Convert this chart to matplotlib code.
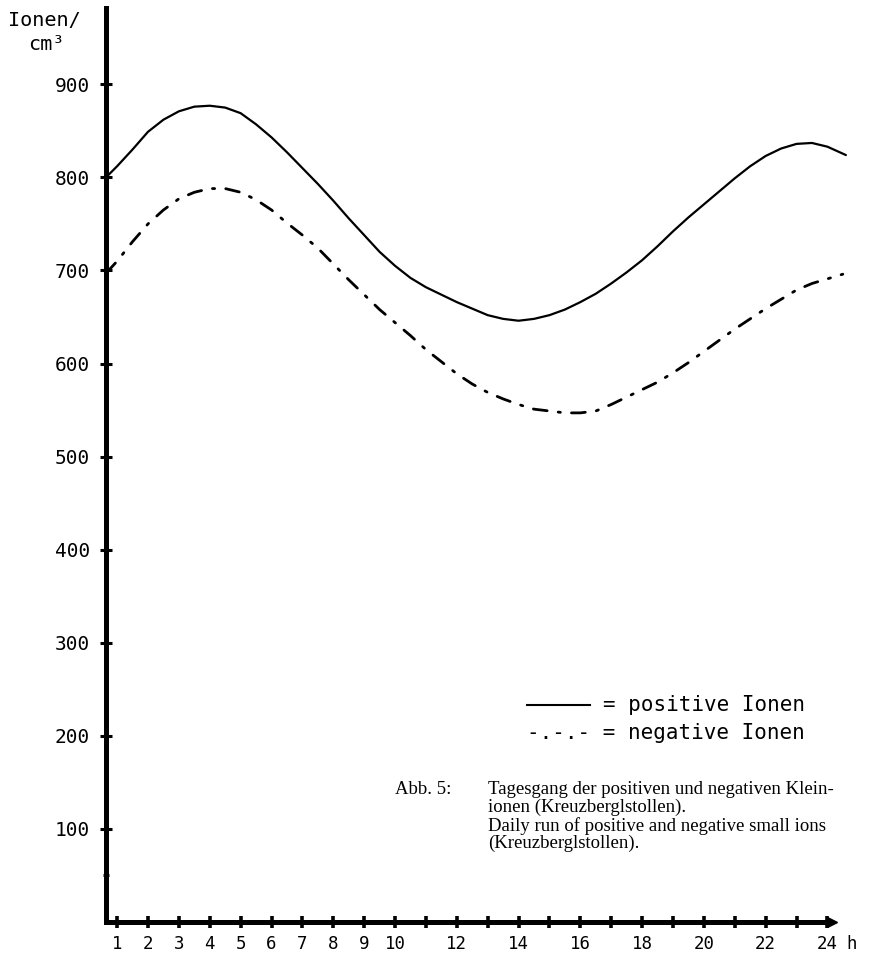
import matplotlib
matplotlib.use("Agg")
import matplotlib.pyplot as plt
from matplotlib.lines import Line2D

# daily run of small ions (Kreuzberglstollen), every half hour
pos_hour = [0.64, 1, 1.5, 2, 2.5, 3, 3.5, 4, 4.5, 5, 5.5, 6, 6.5, 7, 7.5, 8, 8.5, 9,
            9.5, 10, 10.5, 11, 11.5, 12, 12.5, 13, 13.5, 14, 14.5, 15, 15.5, 16,
            16.5, 17, 17.5, 18, 18.5, 19, 19.5, 20, 20.5, 21, 21.5, 22, 22.5, 23,
            23.5, 24, 24.6]
pos_ions = [800, 812, 830, 849, 862, 871, 876, 877, 875, 869, 857, 843, 827, 810,
            793, 775, 756, 738, 720, 705, 692, 682, 674, 666, 659, 652, 648, 646,
            648, 652, 658, 666, 675, 686, 698, 711, 726, 742, 757, 771, 785, 799,
            812, 823, 831, 836, 837, 833, 824]

neg_hour = [0.64, 1, 1.5, 2, 2.5, 3, 3.5, 4, 4.5, 5, 5.5, 6, 6.5, 7, 7.5, 8, 8.5, 9,
            9.5, 10, 10.5, 11, 11.5, 12, 12.5, 13, 13.5, 14, 14.5, 15, 15.5, 16,
            16.5, 17, 17.5, 18, 18.5, 19, 19.5, 20, 20.5, 21, 21.5, 22, 22.5, 23,
            23.5, 24, 24.5]
neg_ions = [697, 710, 731, 750, 765, 777, 784, 788, 788, 784, 776, 765, 751, 738,
            724, 707, 690, 674, 658, 644, 630, 615, 602, 589, 578, 569, 562, 556,
            551, 549, 547, 547, 549, 556, 564, 572, 580, 590, 601, 613, 625, 637,
            648, 659, 669, 679, 686, 691, 696]

y_ticks = [100, 200, 300, 400, 500, 600, 700, 800, 900]
x_ticks = list(range(1, 25))
x_labels = [str(h) if (h <= 10 or h % 2 == 0) else "" for h in x_ticks]

mono = "DejaVu Sans Mono"
serif = "Liberation Serif"

W, H = 873, 956
fig = plt.figure(figsize=(W / 100, H / 100), dpi=100)
ax = fig.add_axes([106 / W, 34 / H, (849 - 106) / W, (922 - 8) / H])

ax.plot(pos_hour, pos_ions, color="black", lw=1.6, solid_capstyle="round",
        solid_joinstyle="round")
ax.plot(neg_hour, neg_ions, color="black", lw=2.0,
        linestyle=(0, (5, 4, 0.8, 4)), dash_capstyle="round")

ax.set_xlim(0.64, 24.7)
ax.set_ylim(0, 982)

for s in ["top", "right"]:
    ax.spines[s].set_visible(False)
for s in ["left", "bottom"]:
    ax.spines[s].set_linewidth(3.6)
ax.spines["bottom"].set_bounds(0.64, 24.1)
ax.plot([24.15], [0], marker=">", color="black", ms=7, clip_on=False)

ax.set_yticks(y_ticks)
ax.set_yticklabels([str(v) for v in y_ticks], family=mono, fontsize=14)
ax.set_yticks([50], minor=True)
ax.set_xticks(x_ticks)
ax.set_xticklabels(x_labels, family=mono, fontsize=12.5)
ax.tick_params(axis="y", direction="inout", length=9, width=2.2, pad=7)
ax.tick_params(axis="y", which="minor", direction="inout", length=5, width=2)
ax.tick_params(axis="x", direction="inout", length=9, width=2.6, pad=5)

fig.text(846 / W, 1 - 944 / H, "h", family=mono, fontsize=12.5, va="center")
fig.text(8 / W, 1 - 21 / H, "Ionen/", family=mono, fontsize=14.5, va="center")
fig.text(28 / W, 1 - 44 / H, "cm³", family=mono, fontsize=14.5, va="center")

# legend written like in the original
fig.add_artist(Line2D([527 / W, 590 / W], [1 - 705 / H, 1 - 705 / H],
                      color="black", lw=1.5))
fig.text(603 / W, 1 - 705 / H, "= positive Ionen", family=mono, fontsize=15, va="center")
fig.text(527 / W, 1 - 733 / H, "-.-.- = negative Ionen", family=mono, fontsize=15, va="center")

fig.text(395 / W, 1 - 790 / H, "Abb. 5:", family=serif, fontsize=13.5, va="center")
caption = ["Tagesgang der positiven und negativen Klein-",
           "ionen (Kreuzberglstollen).",
           "Daily run of positive and negative small ions",
           "(Kreuzberglstollen)."]
for i, line in enumerate(caption):
    fig.text(488 / W, 1 - (790 + 17.8 * i) / H, line, family=serif, fontsize=13.5, va="center")

fig.savefig("out.png", dpi=100, facecolor="white")
